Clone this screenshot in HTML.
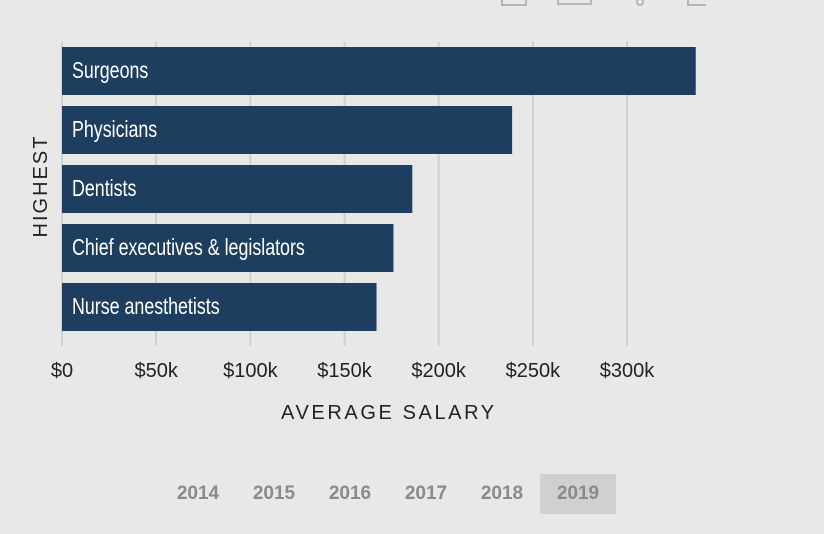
<!DOCTYPE html>
<html><head><meta charset="utf-8"><style>
body{margin:0;width:824px;height:534px;background:#e8e8e8;overflow:hidden;font-family:"Liberation Sans",sans-serif;}
svg text{font-family:"Liberation Sans",sans-serif;}
.yr{position:absolute;top:474px;height:40px;width:76px;text-align:center;color:#8a8a8a;font:bold 19px "Liberation Sans",sans-serif;line-height:40px;}
</style></head><body>
<svg id="chart" width="824" height="534" style="position:absolute;left:0;top:0">
<g stroke="#b5b5b5" stroke-width="2" fill="none">
<rect x="502" y="-5" width="24" height="10"/>
<path d="M558 -3 L558 4 L591 4 L591 -3"/>
<circle cx="640" cy="2" r="3"/>
<path d="M688 0 L688 5 L706 5"/>
</g>
<g id="grid"></g><g id="bars"></g><g id="ticks"></g>
<text x="281" y="419" font-size="20" letter-spacing="2.6" fill="#222">AVERAGE SALARY</text>
<text transform="translate(47,186) rotate(-90)" text-anchor="middle" font-size="20" letter-spacing="2" fill="#222">HIGHEST</text>
</svg>
<div class="yr" style="left:160px">2014</div>
<div class="yr" style="left:236px">2015</div>
<div class="yr" style="left:312px">2016</div>
<div class="yr" style="left:388px">2017</div>
<div class="yr" style="left:464px">2018</div>
<div class="yr" style="left:540px;background:#d0d0d0">2019</div>
<script>
const categories=["Surgeons","Physicians","Dentists","Chief executives & legislators","Nurse anesthetists"];
const values=[336500,239000,186000,176000,167000];
const tickValues=[0,50000,100000,150000,200000,250000,300000];
const tickLabels=["$0","$50k","$100k","$150k","$200k","$250k","$300k"];
const NS="http://www.w3.org/2000/svg";
const x=v=>62+v*(565/300000);
const y=i=>47+i*59;
function mk(t,a,p){const e=document.createElementNS(NS,t);for(const k in a)e.setAttribute(k,a[k]);p.appendChild(e);return e;}
const grid=document.getElementById('grid'),bars=document.getElementById('bars'),ticks=document.getElementById('ticks');
tickValues.forEach((v,i)=>{
 const l=mk('line',{x1:x(v),x2:x(v),y1:42,y2:346,stroke:'#cfcfcf','stroke-width':2},grid);
 
 
 const t=mk('text',{x:x(v),y:377,'text-anchor':'middle','font-size':20,fill:'#222'},ticks);
 t.textContent=tickLabels[i];
 
 
});
categories.forEach((c,i)=>{
 const r=mk('rect',{x:x(0),y:y(i),width:x(values[i])-x(0),height:48,fill:'#1d3e5e'},bars);
 
 
 const t=mk('text',{x:72,y:y(i)+31,'font-size':23,fill:'#fff'},bars);
 t.textContent=c;
 
 
 const w=t.getComputedTextLength();
 t.setAttribute('textLength',w*0.775);
 t.setAttribute('lengthAdjust','spacingAndGlyphs');
});
</script>
</body></html>
